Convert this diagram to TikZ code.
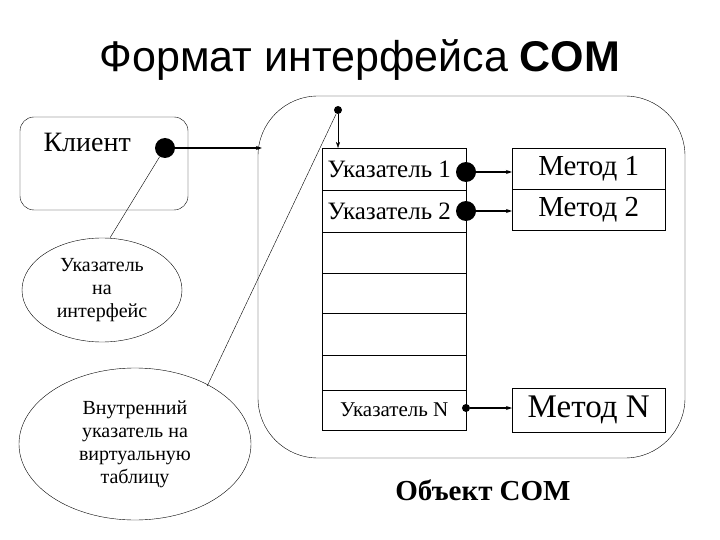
\documentclass[tikz,border=0pt]{standalone}
\usepackage{fontspec}
\setmainfont{Liberation Serif}
\newfontfamily\titlefont{Liberation Sans}
\usetikzlibrary{arrows.meta,shapes.geometric}
\begin{document}
\begin{tikzpicture}[x=1pt,y=-1pt,
  cell/.style={draw,minimum width=144pt,anchor=north west,inner sep=0pt},
  mcell/.style={draw,minimum width=153pt,minimum height=41pt,anchor=north west,inner sep=0pt,font=\fontsize{29}{32}\selectfont},
  dotn/.style={circle,fill=black,inner sep=0pt,minimum size=#1},
  arr/.style={-{Stealth[length=6pt,width=4pt]},line width=1.3pt}]
\useasboundingbox (0,0) rectangle (720,540);
\node (title) at (360,60) {\titlefont\fontsize{43}{48}\selectfont Формат интерфейса \textbf{COM}};
\draw[rounded corners=60pt] (258,96) rectangle (685,458);
\coordinate (objleft) at (262,148);
\draw[rounded corners=14pt] (20,117) rectangle (188,210);
\node[anchor=north west,font=\fontsize{28}{32}\selectfont] (client) at (40,130) {Клиент};
\node[dotn=20pt] (cdot) at (165,148) {};
% table
\node[cell,minimum height=42pt,font=\fontsize{25}{28}\selectfont] (p1) at (322,148) {Указатель 1\hspace*{10pt}};
\node[cell,minimum height=42pt,font=\fontsize{25}{28}\selectfont] (p2) at (322,190) {Указатель 2\hspace*{10pt}};
\node[cell,minimum height=41pt] (e1) at (322,232) {};
\node[cell,minimum height=40pt] (e2) at (322,273) {};
\node[cell,minimum height=42pt] (e3) at (322,313) {};
\node[cell,minimum height=35pt] (e4) at (322,355) {};
\node[cell,minimum height=40pt,font=\fontsize{21}{24}\selectfont] (pn) at (322,390) {Указатель N};
\node[mcell] (m1) at (512,148) {Метод 1};
\node[mcell] (m2) at (512,189) {Метод 2};
\node[mcell,minimum height=44pt,font=\fontsize{33}{36}\selectfont] (mn) at (512,388) {Метод N};
\node[dotn=20pt] (d1) at (466,172) {};
\node[dotn=20pt] (d2) at (466,211) {};
\node[dotn=8pt] (dn) at (466,408) {};
\draw[arr] (d1) -- (m1.west|-d1);
\draw[arr] (d2) -- (m2.west|-d2);
\draw[arr] (dn) -- (mn.west|-dn);
\draw[arr] (cdot) -- (objleft);
\node[dotn=8pt] (tdot) at (338,110) {};
\draw[-{Stealth[length=6pt,width=4pt]}] (tdot) -- (p1.north west-|tdot);
\node[draw,ellipse,minimum width=160pt,minimum height=104pt,inner sep=0pt,align=center,font=\fontsize{20}{23}\selectfont] (el1) at (102,290) {Указатель\\на\\интерфейс};
\node[draw,ellipse,minimum width=232pt,minimum height=152pt,inner sep=0pt,align=center,font=\fontsize{20}{23}\selectfont] (el2) at (135,444) {Внутренний\\указатель на\\виртуальную\\таблицу};
\draw (el1.north) ++(8,0) -- (cdot);
\draw (el2.north east) ++(-10,-4) -- (tdot);
\node[font=\bfseries\fontsize{29}{32}\selectfont] (obj) at (483,490) {Объект COM};
\end{tikzpicture}
\end{document}
